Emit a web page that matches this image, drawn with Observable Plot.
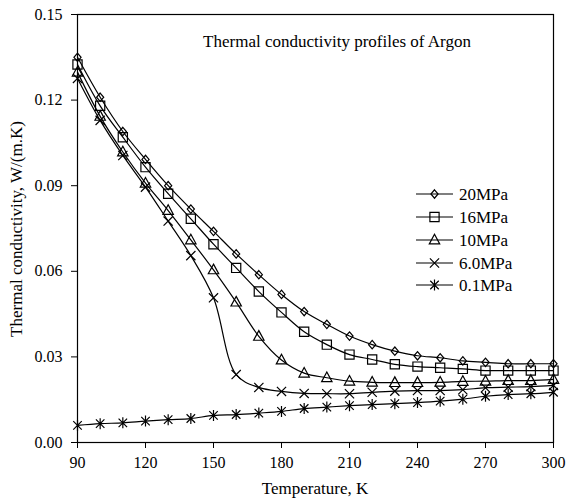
<!DOCTYPE html>
<html>
<head>
<meta charset="utf-8">
<script src="https://cdn.jsdelivr.net/npm/d3@7"></script>
<script src="https://cdn.jsdelivr.net/npm/@observablehq/plot@0.6"></script>
<style>
  html, body { margin: 0; padding: 0; background: #fff; }
  #chart { width: 576px; height: 500px; }
</style>
</head>
<body>
<div id="chart"></div>
<script>
// ---- data ----
const temperature = [90,100,110,120,130,140,150,160,170,180,190,200,210,220,230,240,250,260,270,280,290,300];
const k20MPa = [0.135,0.121,0.109,0.0992,0.090,0.0818,0.074,0.0661,0.0588,0.0519,0.0459,0.0414,0.0373,0.0343,0.032,0.0304,0.0297,0.0286,0.0281,0.0276,0.0276,0.0276];
const k16MPa = [0.1325,0.118,0.107,0.0965,0.0872,0.0784,0.0695,0.0612,0.0529,0.0456,0.0388,0.0343,0.0308,0.0291,0.0274,0.0266,0.0262,0.0258,0.0252,0.0252,0.0252,0.0252];
const k10MPa = [0.1298,0.1143,0.1018,0.0909,0.0813,0.071,0.0605,0.0492,0.0372,0.0289,0.0243,0.0227,0.0215,0.0211,0.021,0.021,0.0211,0.0214,0.0215,0.0217,0.0217,0.0221];
const k6MPa  = [0.1276,0.1129,0.1006,0.0895,0.0776,0.0655,0.0507,0.0238,0.0193,0.0179,0.0172,0.0171,0.0171,0.0176,0.018,0.0182,0.0182,0.0185,0.0192,0.0194,0.0196,0.02];
const k01MPa = [0.006,0.0066,0.0069,0.0075,0.008,0.0084,0.0095,0.0098,0.0103,0.0109,0.0119,0.0124,0.0129,0.0133,0.0136,0.014,0.0145,0.0152,0.0162,0.0168,0.0171,0.0176];
const seriesNames = ["20MPa","16MPa","10MPa","6.0MPa","0.1MPa"];
const seriesValues = [k20MPa, k16MPa, k10MPa, k6MPa, k01MPa];
const xTicks = [90,120,150,180,210,240,270,300];
const yTicks = [0,0.03,0.06,0.09,0.12,0.15];
const titleText = "Thermal conductivity profiles of Argon";
const xLabel = "Temperature, K";
const yLabel = "Thermal conductivity, W/(m.K)";

// ---- symbols ----
const rad = s => Math.sqrt(s / Math.PI);
const symDiamond = { draw(c, s) { const r = rad(s); c.moveTo(0,-r); c.lineTo(r*0.85,0); c.lineTo(0,r); c.lineTo(-r*0.85,0); c.closePath(); } };
const symSquare = { draw(c, s) { const r = rad(s); c.moveTo(-r,-r); c.lineTo(r,-r); c.lineTo(r,r); c.lineTo(-r,r); c.closePath(); } };
const symTriangle = { draw(c, s) { const r = rad(s); c.moveTo(0,-r*1.1); c.lineTo(r,r*0.75); c.lineTo(-r,r*0.75); c.closePath(); } };
const symTimes = { draw(c, s) { const r = rad(s); c.moveTo(-r,-r); c.lineTo(r,r); c.moveTo(-r,r); c.lineTo(r,-r); } };
const symStar = { draw(c, s) { const r = rad(s); c.moveTo(-r*0.85,-r*0.85); c.lineTo(r*0.85,r*0.85); c.moveTo(-r*0.85,r*0.85); c.lineTo(r*0.85,-r*0.85); c.moveTo(0,-r*1.1); c.lineTo(0,r*1.1); } };
const symbols = [symDiamond, symSquare, symTriangle, symTimes, symStar];
const radii = [4.2, 4.6, 5.2, 4.6, 5.0];

const font = "'Liberation Serif', 'Times New Roman', serif";

const rows = [];
seriesNames.forEach((name, i) => {
  temperature.forEach((t, j) => rows.push({series: name, T: t, k: seriesValues[i][j]}));
});

const marks = [
  Plot.axisX({ticks: xTicks, tickSize: 6, tickPadding: 8, label: null, stroke: "#000", fontFamily: font, fontSize: 16}),
  Plot.axisY({ticks: yTicks, tickSize: 6, tickPadding: 9, tickFormat: d => d.toFixed(2), label: null, stroke: "#000", fontFamily: font, fontSize: 16}),
  Plot.frame({stroke: "#000", strokeWidth: 1.2})
];
seriesNames.forEach((name, i) => {
  const d = rows.filter(r => r.series === name);
  marks.push(Plot.line(d, {x: "T", y: "k", curve: "catmull-rom", stroke: "#000", strokeWidth: 1.2}));
  marks.push(Plot.dot(d, {x: "T", y: "k", symbol: symbols[i], r: radii[i], stroke: "#000", strokeWidth: 1.2, fill: "none"}));
});

const chart = Plot.plot({
  width: 576, height: 500,
  marginLeft: 77, marginRight: 23, marginTop: 14, marginBottom: 58,
  style: {fontFamily: font, fontSize: "16px", color: "#000", background: "#fff", overflow: "visible"},
  x: {domain: [90, 300]},
  y: {domain: [0, 0.15]},
  marks
});

const svg = d3.select(chart);
svg.append("text").attr("x", 315).attr("y", 494).attr("text-anchor", "middle")
  .attr("font-family", font).attr("font-size", 17).attr("fill", "#000").text(xLabel);
svg.append("text").attr("transform", "translate(22,229) rotate(-90)").attr("text-anchor", "middle")
  .attr("font-family", font).attr("font-size", 17).attr("fill", "#000").text(yLabel);
svg.append("text").attr("x", 337).attr("y", 47).attr("text-anchor", "middle")
  .attr("font-family", font).attr("font-size", 17).attr("fill", "#000").text(titleText);

// legend
const lg = svg.append("g");
const rowY = [194, 217, 240, 263, 285];
seriesNames.forEach((name, i) => {
  const y = rowY[i];
  lg.append("line").attr("x1", 416).attr("x2", 453).attr("y1", y).attr("y2", y)
    .attr("stroke", "#000").attr("stroke-width", 1.2);
  const p = d3.path();
  symbols[i].draw(p, radii[i] * radii[i] * Math.PI);
  lg.append("path").attr("d", p.toString()).attr("transform", `translate(434.5,${y})`)
    .attr("fill", "none").attr("stroke", "#000").attr("stroke-width", 1.2);
  lg.append("text").attr("x", 459).attr("y", y + 5.5).attr("text-anchor", "start").attr("font-family", font)
    .attr("font-size", 17).attr("fill", "#000").text(name);
});

document.getElementById("chart").appendChild(chart);
</script>
</body>
</html>
